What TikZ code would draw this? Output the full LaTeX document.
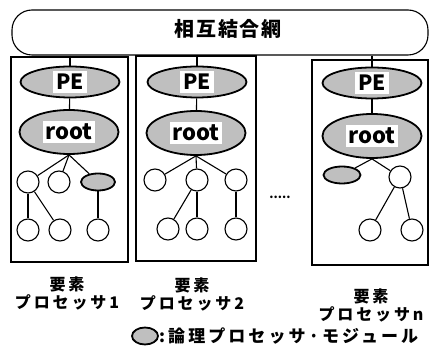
\documentclass[tikz,border=0pt]{standalone}
\usepackage{fontspec}
\setmainfont{Noto Sans CJK JP}
\usetikzlibrary{shapes.geometric}
\begin{document}
\begin{tikzpicture}[x=1pt,y=-1pt,
  every node/.style={font=\bfseries},
  frame/.style={draw, line width=1.1pt, inner sep=0pt},
  bigell/.style={ellipse, draw, line width=1.8pt, fill=gray!50, inner sep=0pt,
     minimum width=99pt},
  pe/.style={bigell, minimum height=31pt},
  rootell/.style={bigell, minimum height=44pt},
  petext/.style={fill=white, inner sep=3pt, font=\fontsize{21}{21}\selectfont\bfseries},
  roottext/.style={fill=white, inner sep=2.5pt, font=\fontsize{22}{22}\selectfont\bfseries},
  leaf/.style={circle, draw, line width=1.1pt, minimum size=22pt, inner sep=0pt},
  lpm/.style={ellipse, draw, line width=1.8pt, fill=gray!50, minimum width=34pt,
     minimum height=17pt, inner sep=0pt},
  edge/.style={line width=1.1pt},
  capt/.style={align=center, font=\fontsize{16}{18}\selectfont\bfseries\addfontfeature{LetterSpace=18}}
]
\useasboundingbox (0,0) rectangle (432,358);
% interconnection network
\node[frame, rounded corners=20pt, minimum width=416pt, minimum height=45pt] (net) at (220,32.5) {};
\node[font=\fontsize{20}{20}\selectfont\bfseries\addfontfeature{LetterSpace=10}] (title) at (228,29) {相互結合網};
% processor boxes
\node[frame, minimum width=117pt, minimum height=205pt] (b1) at (69.5,159.5) {};
\node[frame, minimum width=120pt, minimum height=205pt] (b2) at (196,158.5) {};
\node[frame, minimum width=116pt, minimum height=205pt] (b3) at (370,162.5) {};
% box 1
\node[pe] (pe1) at (70,82) {};
\node[petext] (pe1t) at (pe1) {PE};
\node[rootell] (r1) at (69,132) {};
\node[roottext] (r1t) at (r1) {root};
\node[leaf] (a1) at (28,182) {};
\node[leaf] (a2) at (59,182) {};
\node[lpm] (a3) at (98,182) {};
\node[leaf] (a4) at (28,230) {};
\node[leaf] (a5) at (60,230) {};
\node[leaf] (a6) at (98,230) {};
% box 2
\node[pe] (pe2) at (197,82) {};
\node[petext] (pe2t) at (pe2) {PE};
\node[rootell] (r2) at (196,133) {};
\node[roottext] (r2t) at (r2) {root};
\node[leaf] (c1) at (155,180) {};
\node[leaf] (c2) at (197,180) {};
\node[leaf] (c3) at (236,180) {};
\node[leaf] (c4) at (168,229) {};
\node[leaf] (c5) at (197,229) {};
\node[leaf] (c6) at (236,229) {};
% box 3
\node[pe] (pe3) at (372,83) {};
\node[petext] (pe3t) at (pe3) {PE};
\node[rootell] (r3) at (372,136) {};
\node[roottext] (r3t) at (r3) {root};
\node[lpm, minimum width=37pt] (d1) at (342,175) {};
\node[leaf] (d2) at (400,177) {};
\node[leaf] (d3) at (370,230) {};
\node[leaf] (d4) at (412,230) {};
% dots
\node[font=\fontsize{12}{12}\selectfont\bfseries] (dots) at (280,197) {.....};
% connectors
\foreach \p in {pe1,pe2,pe3}
  \draw[edge] (net.south -| \p.north) -- (\p.north);
\draw[edge] (pe1) -- (r1);
\draw[edge] (pe2) -- (r2);
\draw[edge] (pe3) -- (r3);
\foreach \c in {a1,a2,a3} \draw[edge] (r1.south) -- (\c);
\draw[edge] (a1) -- (a4);
\draw[edge] (a1) -- (a5);
\draw[edge] (a3) -- (a6);
\foreach \c in {c1,c2,c3} \draw[edge] (r2.south) -- (\c);
\draw[edge] (c2) -- (c4);
\draw[edge] (c2) -- (c5);
\draw[edge] (c3) -- (c6);
\foreach \c in {d1,d2} \draw[edge] (r3.south) -- (\c);
\draw[edge] (d2) -- (d3);
\draw[edge] (d2) -- (d4);
% captions
\node[capt] (l1) at (67,293) {要素\\プロセッサ1};
\node[capt] (l2) at (192,294) {要素\\プロセッサ2};
\node[capt] (l3) at (371,305) {要素\\プロセッサn};
% legend
\node[lpm, minimum width=26pt] (leg) at (145,336) {};
\node[anchor=west, inner sep=0pt, font=\fontsize{17}{17}\selectfont\bfseries\addfontfeature{LetterSpace=18}] (legt) at (159,336) {:論理プロセッサ·モジュール};
\end{tikzpicture}
\end{document}
